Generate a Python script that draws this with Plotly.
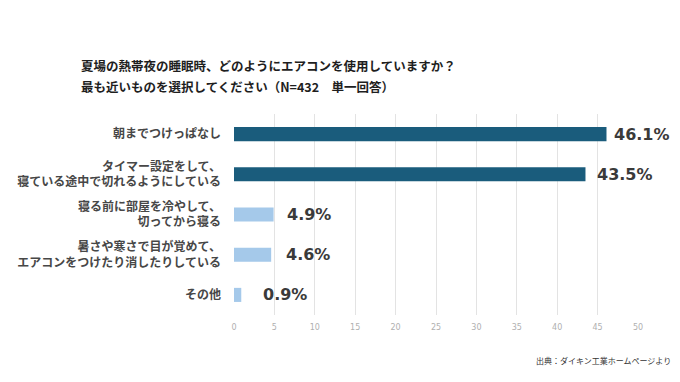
import plotly.graph_objects as go

categories = [
    "朝までつけっぱなし",
    "タイマー設定をして、<br>寝ている途中で切れるようにしている",
    "寝る前に部屋を冷やして、<br>切ってから寝る",
    "暑さや寒さで目が覚めて、<br>エアコンをつけたり消したりしている",
    "その他",
]
values = [46.1, 43.5, 4.9, 4.6, 0.9]
value_labels = ["46.1%", "43.5%", "4.9%", "4.6%", "0.9%"]
tick_vals = [0, 5, 10, 15, 20, 25, 30, 35, 40, 45, 50]
title_lines = [
    "夏場の熱帯夜の睡眠時、どのようにエアコンを使用していますか？",
    "最も近いものを選択してください（N=432　単一回答）",
]
source_text = "出典：ダイキン工業ホームページより"

DARK = "#1a5c7c"
LIGHT = "#a5c9ea"
bar_colors = [DARK, DARK, LIGHT, LIGHT, LIGHT]
label_gaps = [6, 10, 11, 13, 20]

FONT = "Noto Sans CJK JP"

fig = go.Figure()
fig.add_trace(go.Bar(
    y=categories, x=values, orientation="h",
    marker=dict(color=bar_colors, line=dict(width=0)),
    width=0.35, hoverinfo="skip",
))

for c, v, t, g in zip(categories, values, value_labels, label_gaps):
    fig.add_annotation(x=v, y=c, text=f"<b>{t}</b>", showarrow=False,
                       xanchor="left", xshift=g,
                       font=dict(family="Verdana, DejaVu Sans", size=16, color="#3a3a3a"))

for i, line in enumerate(title_lines):
    fig.add_annotation(xref="paper", yref="paper", x=0, y=1.0,
                       xshift=-155, yshift=49 - 21 * i,
                       xanchor="left", yanchor="middle", align="left", showarrow=False,
                       text=f"<b>{line}</b>",
                       font=dict(family=FONT, size=12.5, color="#1e1e1e"))

fig.add_annotation(xref="paper", yref="paper", x=1.0, y=0, xshift=35, yshift=-45,
                   xanchor="right", yanchor="middle", showarrow=False,
                   text=source_text,
                   font=dict(family=FONT, size=8, color="#333333"))

fig.update_layout(
    width=672, height=374,
    margin=dict(l=226, r=42, t=106, b=67, autoexpand=False),
    paper_bgcolor="white", plot_bgcolor="white",
    showlegend=False,
    font=dict(family=FONT),
    xaxis=dict(range=[0, 50], tickvals=tick_vals, showgrid=True,
               gridcolor="#e3e3e3", gridwidth=1, zeroline=False,
               showline=False, ticks="", automargin=False,
               ticklabelstandoff=6,
               tickfont=dict(size=8, color="#b0b0b0", family="DejaVu Sans"),
               fixedrange=True),
    yaxis=dict(autorange="reversed", showgrid=False, zeroline=False,
               ticks="", ticklabelstandoff=12, automargin=False,
               tickfont=dict(size=12, color="#474747", family=FONT, weight="bold"),
               fixedrange=True),
)

fig.write_html("out.html")
